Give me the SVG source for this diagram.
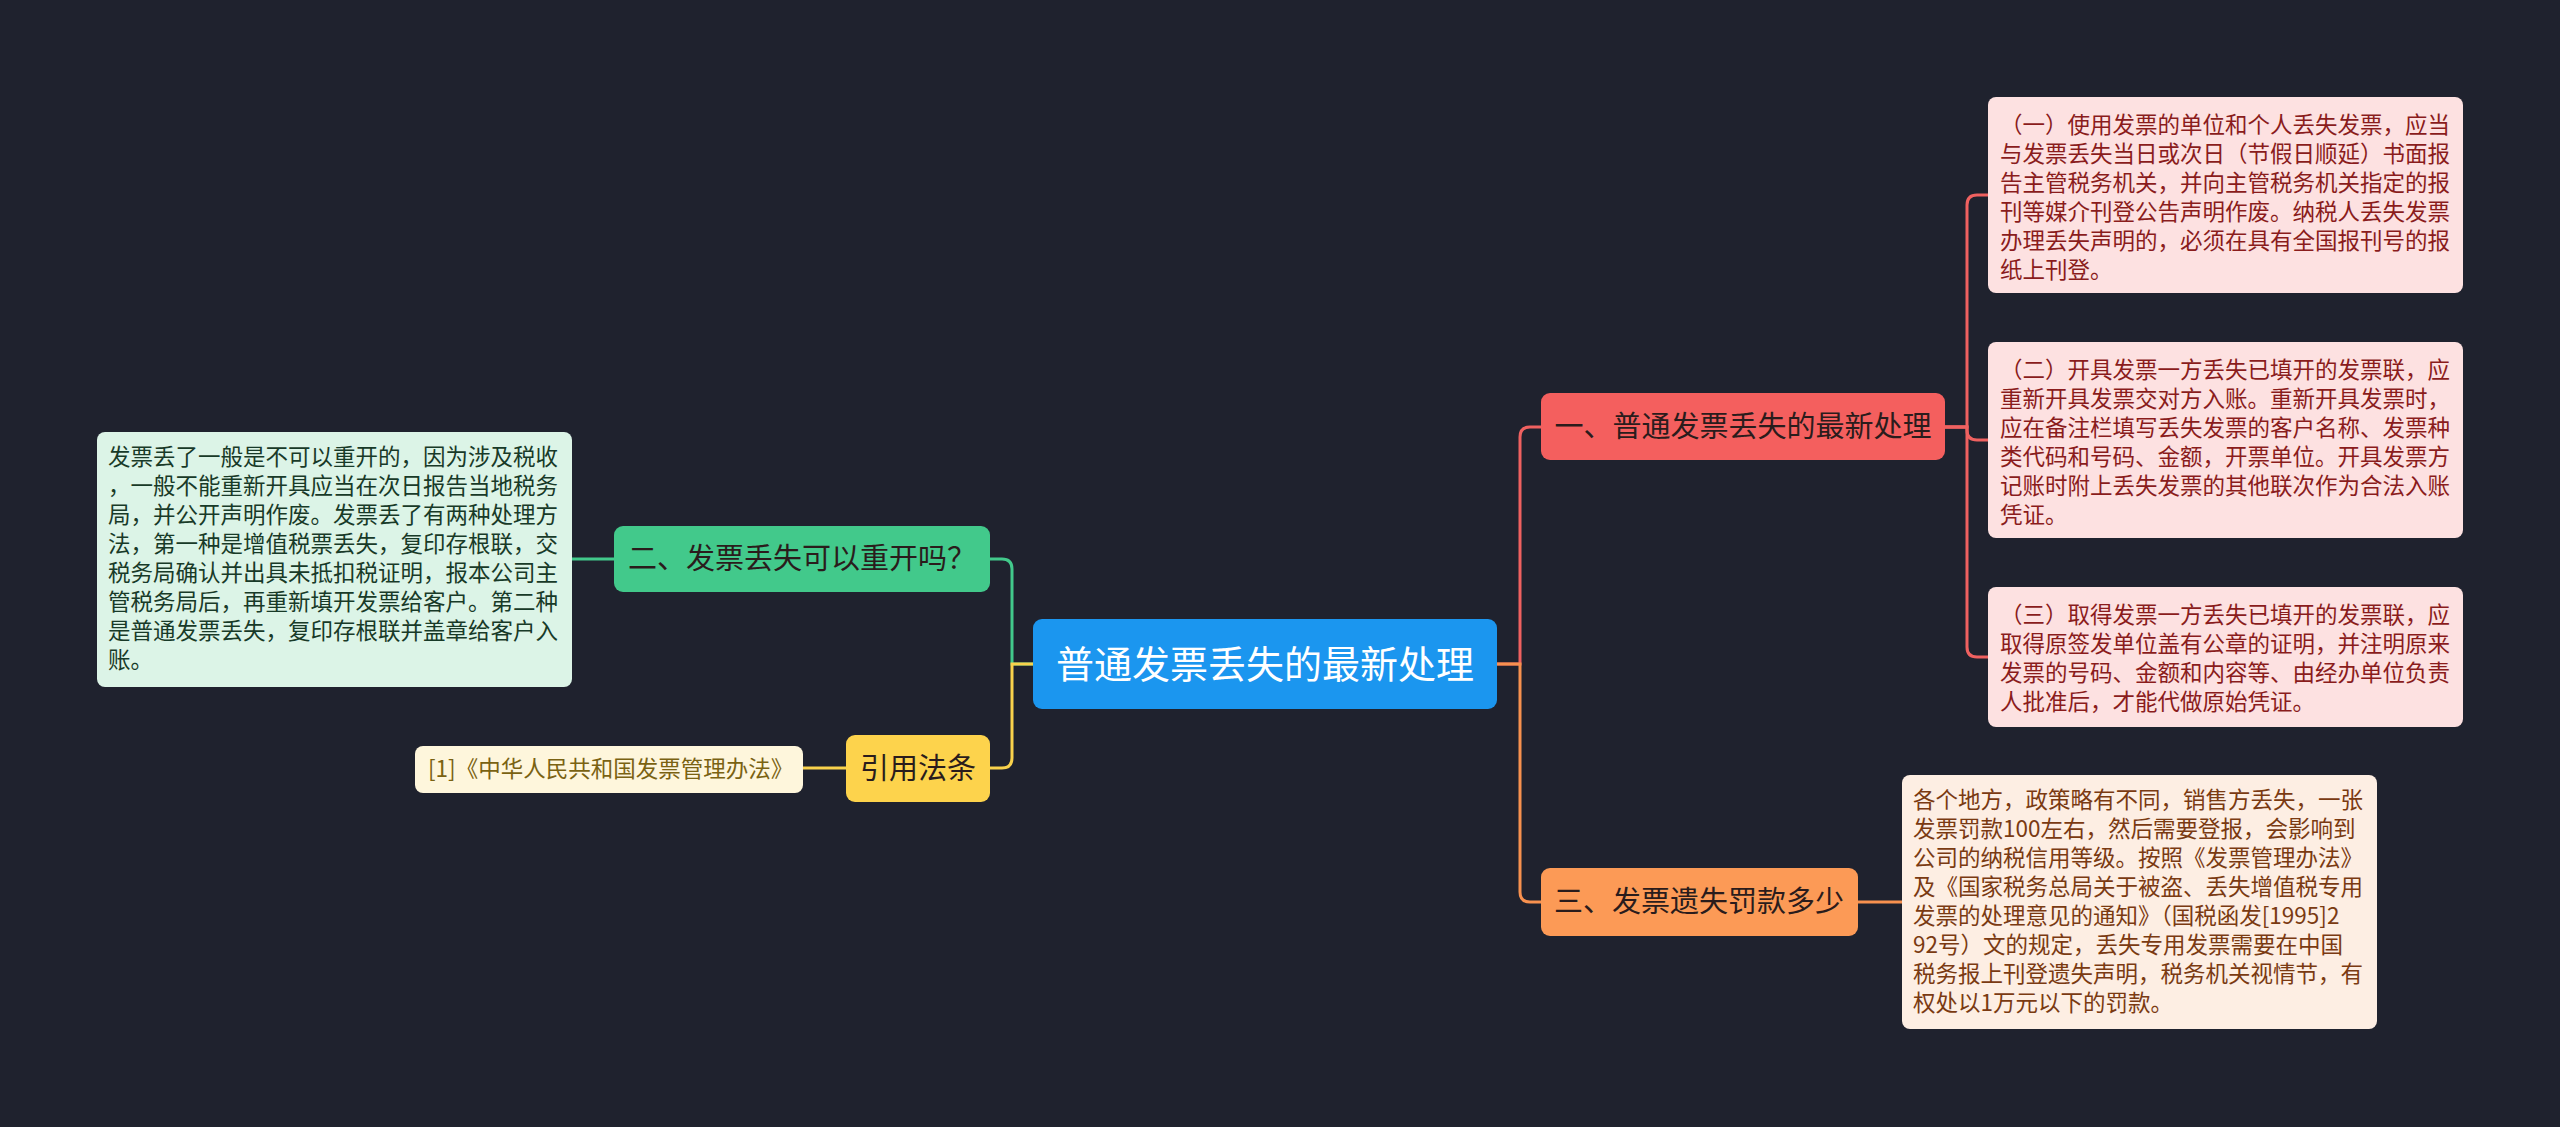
<svg xmlns="http://www.w3.org/2000/svg" width="2560" height="1127" viewBox="0 0 2560 1127">
<style>
text{font-family:"Noto Sans CJK SC","Noto Sans",sans-serif;}
.c{fill:none;stroke-width:3;}
.leaf{font-size:22.5px;}
.br{font-size:29px;fill:#2a1c1c;text-anchor:middle;}
</style>
<rect width="2560" height="1127" fill="#1f222e"/>
<g id="connectors">
<path class="c" stroke="#ef6160" d="M1497 664 H1520 V437 Q1520 427 1530 427 H1541"/>
<path class="c" stroke="#f7914f" d="M1497 664 H1520 V892 Q1520 902 1530 902 H1541"/>
<path class="c" stroke="#42c98b" d="M1033 664 H1012 V569 Q1012 559 1002 559 H990"/>
<path class="c" stroke="#f9d24c" d="M1033 664 H1012 V758 Q1012 768 1002 768 H990"/>
<path class="c" stroke="#ef6160" d="M1945 427 H1967 V205 Q1967 195 1977 195 H1988"/>
<path class="c" stroke="#ef6160" d="M1945 427 H1967 V430 Q1967 440 1977 440 H1988"/>
<path class="c" stroke="#ef6160" d="M1945 427 H1967 V647 Q1967 657 1977 657 H1988"/>
<path class="c" stroke="#f7914f" d="M1858 902 H1902"/>
<path class="c" stroke="#42c98b" d="M572 559 H614"/>
<path class="c" stroke="#f9d24c" d="M803 768 H846"/>
</g>
<g id="center">
<rect x="1033" y="619" width="464" height="90" rx="9" fill="#1b96ef"/>
<text x="1265" y="678" font-size="38" fill="#ffffff" text-anchor="middle">普通发票丢失的最新处理</text>
</g>
<g id="branch1">
<rect x="1541" y="393" width="404" height="67" rx="9" fill="#f45f5e"/>
<text class="br" x="1743" y="437">一、普通发票丢失的最新处理</text>
</g>
<g id="branch3">
<rect x="1541" y="868" width="317" height="68" rx="9" fill="#fc9a56"/>
<text class="br" x="1699" y="912">三、发票遗失罚款多少</text>
</g>
<g id="branch2">
<rect x="614" y="526" width="376" height="66" rx="9" fill="#42c98b"/>
<text class="br" x="802" y="569" fill="#12291e">二、发票丢失可以重开吗？</text>
</g>
<g id="cite">
<rect x="846" y="735" width="144" height="67" rx="9" fill="#fdd34c"/>
<text class="br" x="918" y="779">引用法条</text>
</g>
<g id="leaf1">
<rect x="1988" y="97" width="475" height="196" rx="8" fill="#fde1e1"/>
<text class="leaf" fill="#8a1c1c"><tspan x="2000" y="133">（一）使用发票的单位和个人丢失发票，应当</tspan><tspan x="2000" y="162">与发票丢失当日或次日（节假日顺延）书面报</tspan><tspan x="2000" y="191">告主管税务机关，并向主管税务机关指定的报</tspan><tspan x="2000" y="220">刊等媒介刊登公告声明作废。纳税人丢失发票</tspan><tspan x="2000" y="249">办理丢失声明的，必须在具有全国报刊号的报</tspan><tspan x="2000" y="278">纸上刊登。</tspan></text>
</g>
<g id="leaf2">
<rect x="1988" y="342" width="475" height="196" rx="8" fill="#fde1e1"/>
<text class="leaf" fill="#8a1c1c"><tspan x="2000" y="378">（二）开具发票一方丢失已填开的发票联，应</tspan><tspan x="2000" y="407">重新开具发票交对方入账。重新开具发票时，</tspan><tspan x="2000" y="436">应在备注栏填写丢失发票的客户名称、发票种</tspan><tspan x="2000" y="465">类代码和号码、金额，开票单位。开具发票方</tspan><tspan x="2000" y="494">记账时附上丢失发票的其他联次作为合法入账</tspan><tspan x="2000" y="523">凭证。</tspan></text>
</g>
<g id="leaf3">
<rect x="1988" y="587" width="475" height="140" rx="8" fill="#fde1e1"/>
<text class="leaf" fill="#8a1c1c"><tspan x="2000" y="623">（三）取得发票一方丢失已填开的发票联，应</tspan><tspan x="2000" y="652">取得原签发单位盖有公章的证明，并注明原来</tspan><tspan x="2000" y="681">发票的号码、金额和内容等、由经办单位负责</tspan><tspan x="2000" y="710">人批准后，才能代做原始凭证。</tspan></text>
</g>
<g id="leaf4">
<rect x="1902" y="775" width="475" height="254" rx="8" fill="#fdeee3"/>
<text class="leaf" fill="#7a3a12"><tspan x="1913" y="808">各个地方，政策略有不同，销售方丢失，一张</tspan><tspan x="1913" y="837">发票罚款100左右，然后需要登报，会影响到</tspan><tspan x="1913" y="866">公司的纳税信用等级。按照《发票管理办法》</tspan><tspan x="1913" y="895">及《国家税务总局关于被盗、丢失增值税专用</tspan><tspan x="1913" y="924">发票的处理意见的通知》（国税函发[1995]2</tspan><tspan x="1913" y="953">92号）文的规定，丢失专用发票需要在中国</tspan><tspan x="1913" y="982">税务报上刊登遗失声明，税务机关视情节，有</tspan><tspan x="1913" y="1011">权处以1万元以下的罚款。</tspan></text>
</g>
<g id="leaf5">
<rect x="97" y="432" width="475" height="255" rx="8" fill="#dcf4e7"/>
<text class="leaf" fill="#183a28"><tspan x="108" y="465">发票丢了一般是不可以重开的，因为涉及税收</tspan><tspan x="108" y="494">，一般不能重新开具应当在次日报告当地税务</tspan><tspan x="108" y="523">局，并公开声明作废。发票丢了有两种处理方</tspan><tspan x="108" y="552">法，第一种是增值税票丢失，复印存根联，交</tspan><tspan x="108" y="581">税务局确认并出具未抵扣税证明，报本公司主</tspan><tspan x="108" y="610">管税务局后，再重新填开发票给客户。第二种</tspan><tspan x="108" y="639">是普通发票丢失，复印存根联并盖章给客户入</tspan><tspan x="108" y="668">账。</tspan></text>
</g>
<g id="leaf6">
<rect x="415" y="746" width="388" height="47" rx="8" fill="#fef6dc"/>
<text class="leaf" x="428" y="777" fill="#7a6212">[1]《中华人民共和国发票管理办法》</text>
</g>
</svg>
